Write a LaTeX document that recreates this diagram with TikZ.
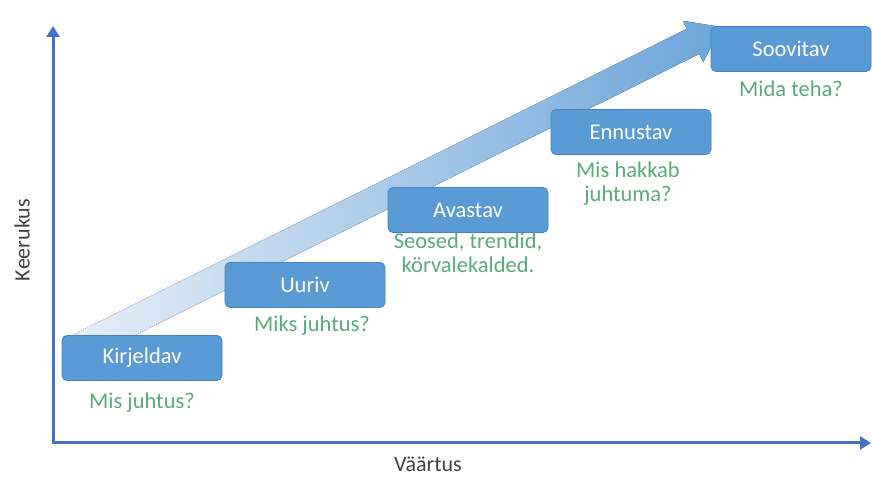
\documentclass[tikz,border=0pt]{standalone}
\usepackage{fontspec}
\setmainfont{Carlito}
\usepackage{tikz}
\usetikzlibrary{arrows.meta}
\definecolor{boxblue}{RGB}{91,155,213}
\definecolor{boxedge}{RGB}{70,130,195}
\definecolor{axisblue}{RGB}{68,114,196}
\definecolor{qgreen}{RGB}{88,170,122}
\definecolor{bandlight}{RGB}{230,238,248}
\tikzset{
  stage/.style={draw=boxedge,fill=boxblue,rounded corners=5pt,line width=0.8pt,
    minimum width=160pt,minimum height=45pt,text=white,
    font=\fontsize{22.5}{26}\selectfont},
  question/.style={text=qgreen,align=center,font=\fontsize{22.5}{24}\selectfont},
  axislabel/.style={text=black!75,font=\fontsize{22}{26}\selectfont}
}

\begin{document}
\begin{tikzpicture}[x=1pt,y=1pt]
  \useasboundingbox (0,0) rectangle (872,478);
  % wide arrow behind the boxes
  \fill[left color=bandlight,right color=boxblue!90,shift={(80,131)},rotate=26.5]
    (0,-14) -- (685,-14) -- (685,-23) -- (717,0) -- (685,23) -- (685,14) -- (0,14) -- cycle;
  % axes
  \coordinate (o) at (53,35);
  \coordinate (ytop) at (53,452);
  \coordinate (xend) at (871,35);
  \draw[axisblue,line width=3pt,{Triangle[width=13pt,length=11pt]}-{Triangle[width=13pt,length=11pt]}]
    (ytop) -- (o) -- (xend);
  \node[axislabel,rotate=90] (ky) at (22,238) {Keerukus};
  \node[axislabel] (vx) at (428,14) {Väärtus};
  % stages
  \node[stage] (k) at (142,120) {Kirjeldav};
  \node[stage] (u) at (305,193) {Uuriv};
  \node[stage] (a) at (468,268) {Avastav};
  \node[stage] (e) at (631,346) {Ennustav};
  \node[stage] (s) at (791,429) {Soovitav};
  \node[question] (kq) at (142,75) {Mis juhtus?};
  \node[question] (uq) at (312,152) {Miks juhtus?};
  \node[question] (aq) at (468,225) {Seosed, trendid,\\körvalekalded.};
  \node[question] (eq) at (628,294) {Mis hakkab\\juhtuma?};
  \node[question] (sq) at (791,389) {Mida teha?};
\end{tikzpicture}
\end{document}
